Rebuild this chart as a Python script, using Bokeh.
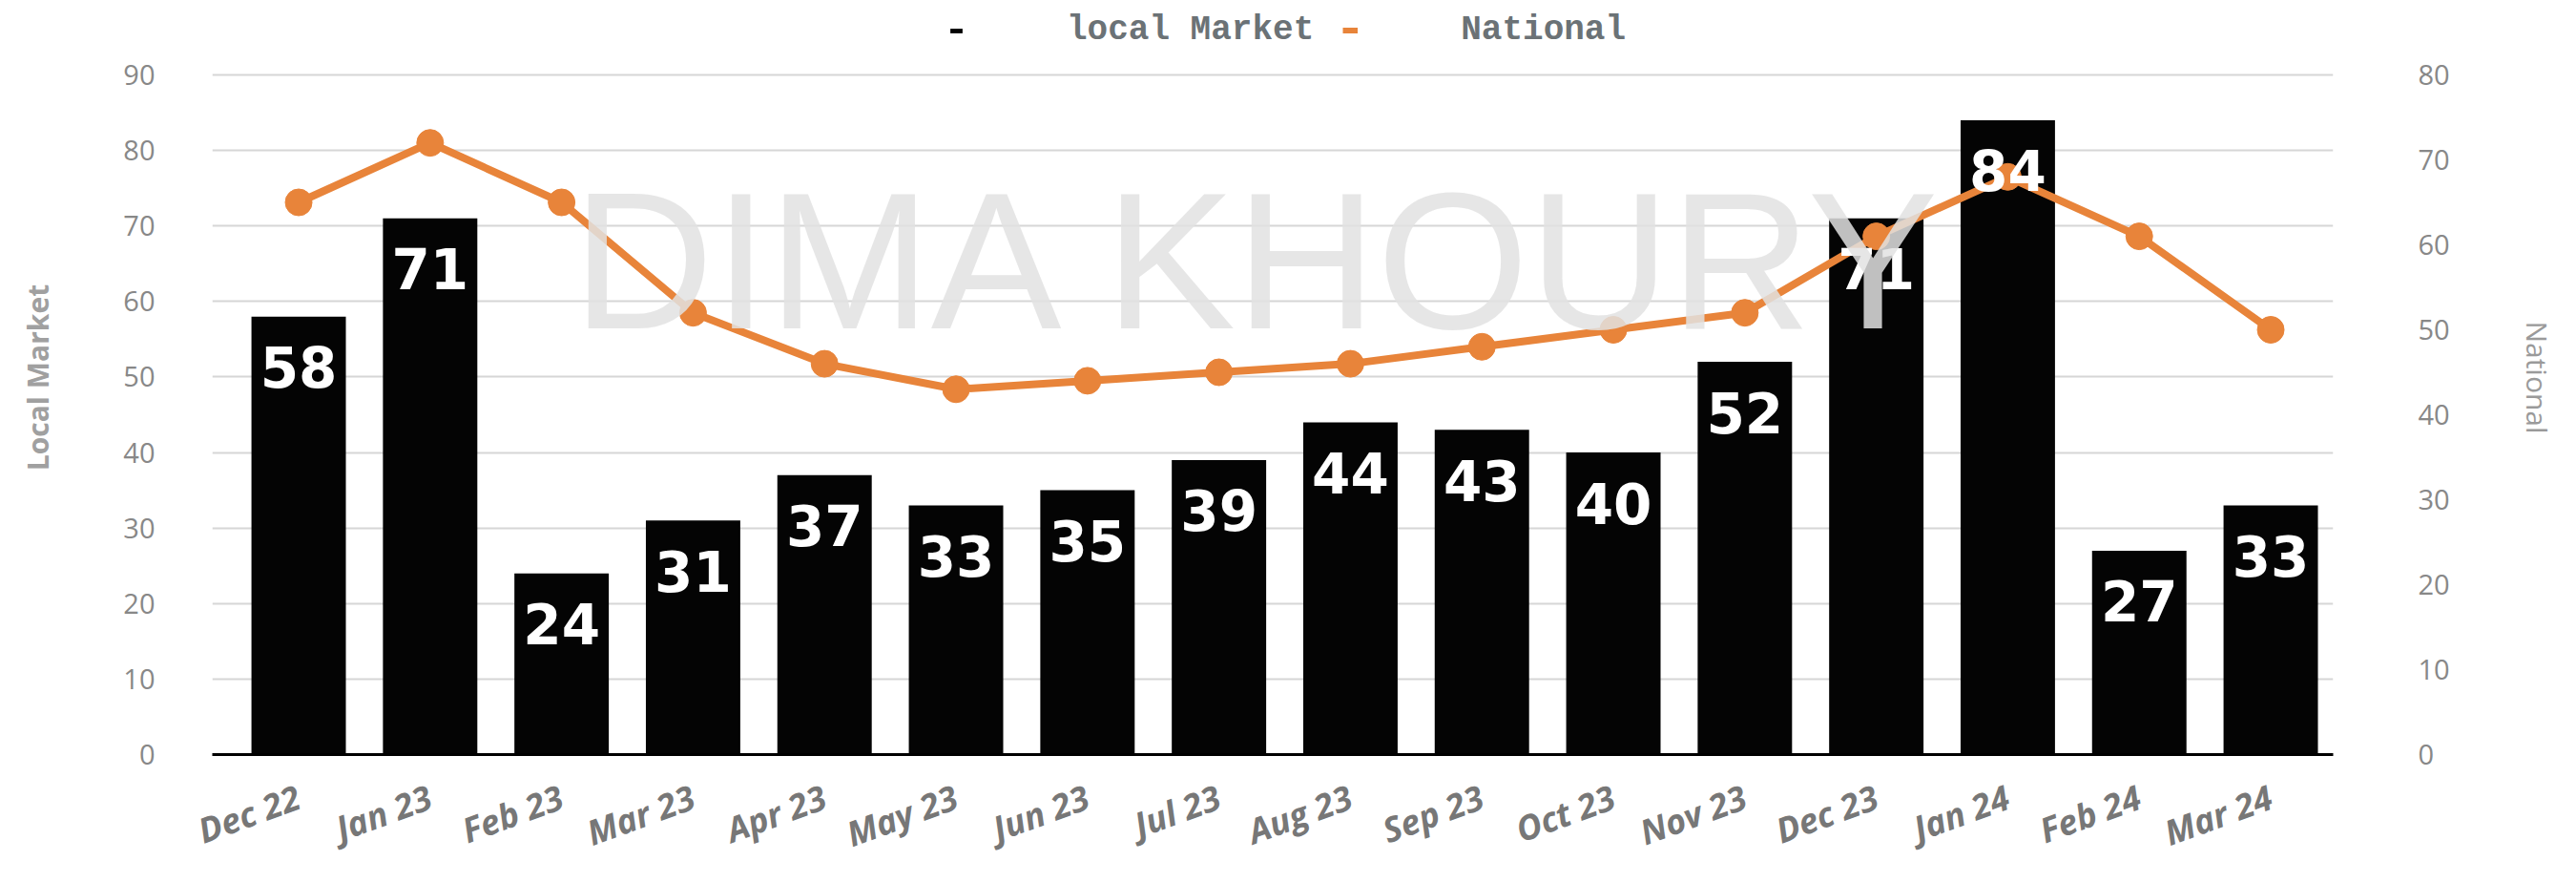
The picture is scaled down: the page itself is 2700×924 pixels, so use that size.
import math
from bokeh.plotting import figure
from bokeh.models import (Range1d, LinearAxis, FixedTicker, Legend, LegendItem,
                          Label, ColumnDataSource)
from bokeh.core.properties import value
from bokeh.embed import file_html
from bokeh.resources import INLINE

months = ["Dec 22", "Jan 23", "Feb 23", "Mar 23", "Apr 23", "May 23", "Jun 23", "Jul 23",
          "Aug 23", "Sep 23", "Oct 23", "Nov 23", "Dec 23", "Jan 24", "Feb 24", "Mar 24"]
local_market = [58, 71, 24, 31, 37, 33, 35, 39, 44, 43, 40, 52, 71, 84, 27, 33]
national = [65, 72, 65, 52, 46, 43, 44, 45, 46, 48, 50, 52, 61, 68, 61, 50]
left_ticks = [0, 10, 20, 30, 40, 50, 60, 70, 80, 90]
right_ticks = [0, 10, 20, 30, 40, 50, 60, 70, 80]

ORANGE = "#E8843A"
idx = list(range(len(months)))
src = ColumnDataSource(dict(x=idx, month=months, local=local_market, national=national,
                            label=[str(v) for v in local_market]))

# frame spans the full top of the page so the legend (inside the frame) is not clipped;
# the value ranges are stretched so that 90 / 80 sit 78px below the top of the page.
FRAME_H = 790.0
AXIS_H = 712.0
left_end = 90 * FRAME_H / AXIS_H
right_end = 80 * FRAME_H / AXIS_H

p = figure(width=2700, height=924, output_backend="svg", toolbar_location=None,
           x_range=Range1d(-0.657, 15.475), y_range=Range1d(0, left_end),
           min_border_left=222, min_border_right=255, min_border_top=0, min_border_bottom=134,
           background_fill_color="white", border_fill_color="white")
p.outline_line_color = None
p.extra_y_ranges = {"nat": Range1d(0, right_end)}

# grid
p.xgrid.grid_line_color = None
p.ygrid.ticker = FixedTicker(ticks=left_ticks)
p.ygrid.grid_line_color = "#d6d6d6"
p.ygrid.grid_line_width = 2

# x axis
xa = p.xaxis[0]
xa.ticker = FixedTicker(ticks=idx)
xa.major_label_overrides = {i: m for i, m in enumerate(months)}
xa.major_label_orientation = math.radians(20)
xa.axis_line_color = "black"
xa.axis_line_width = 3
xa.major_tick_line_color = None
xa.minor_tick_line_color = None
xa.major_label_text_font = "Open Sans"
xa.major_label_text_font_style = "bold italic"
xa.major_label_text_font_size = "36px"
xa.major_label_text_color = "#777777"
xa.major_label_standoff = 37

# left axis
ya = p.yaxis[0]
ya.ticker = FixedTicker(ticks=left_ticks)
ya.bounds = (0, 90)
ya.axis_line_color = None
ya.major_tick_line_color = None
ya.minor_tick_line_color = None
ya.major_label_text_font = "Open Sans"
ya.major_label_text_font_size = "29px"
ya.major_label_text_color = "#888888"
ya.major_label_standoff = 54
ya.axis_label = "Local Market"
ya.axis_label_text_font = "Open Sans"
ya.axis_label_text_font_style = "bold"
ya.axis_label_text_font_size = "30px"
ya.axis_label_text_color = "#a0a0a0"
ya.axis_label_standoff = 66

# right axis
ra = LinearAxis(y_range_name="nat", ticker=FixedTicker(ticks=right_ticks), bounds=(0, 80))
ra.axis_line_color = None
ra.major_tick_line_color = None
ra.minor_tick_line_color = None
ra.major_label_text_font = "Open Sans"
ra.major_label_text_font_size = "29px"
ra.major_label_text_color = "#888888"
ra.major_label_standoff = 83
ra.axis_label = "National"
ra.axis_label_text_font = "Open Sans"
ra.axis_label_text_font_style = "normal"
ra.axis_label_text_font_size = "30px"
ra.axis_label_text_color = "#9a9a9a"
ra.axis_label_standoff = 68
p.add_layout(ra, "right")

# bars
bars = p.vbar(x="x", top="local", width=0.718, source=src, fill_color="#040404",
              line_color=None)

# watermark
wm = Label(x=1099, y=518, x_units="screen", y_units="screen", text="DIMA KHOURY",
           text_font="Liberation Sans", text_font_size="205px", text_color="#e2e2e2",
           text_alpha=0.85, text_align="center", text_baseline="middle")
p.add_layout(wm)

# national line
ln = p.line(x="x", y="national", source=src, y_range_name="nat", line_color=ORANGE,
            line_width=8)
p.scatter(x="x", y="national", source=src, y_range_name="nat", size=28,
          fill_color=ORANGE, line_color=ORANGE)

# bar labels
p.text(x="x", y="local", text="label", source=src, text_color="white",
       text_font=value("DejaVu Sans"), text_font_style="bold", text_font_size="58px",
       text_align="center", text_baseline="middle", y_offset=53)

legend = Legend(items=[LegendItem(label="local Market", renderers=[bars]),
                       LegendItem(label="National", renderers=[ln])],
                orientation="horizontal", location=(772, 738),
                glyph_width=16, glyph_height=6, label_standoff=108, spacing=30,
                label_text_font="Liberation Mono", label_text_font_style="bold",
                label_text_font_size="36px", label_text_color="#6b7276",
                border_line_color=None, background_fill_alpha=0, padding=0, margin=0)
p.add_layout(legend, "center")

open("out.html", "w").write(file_html(p, INLINE))
